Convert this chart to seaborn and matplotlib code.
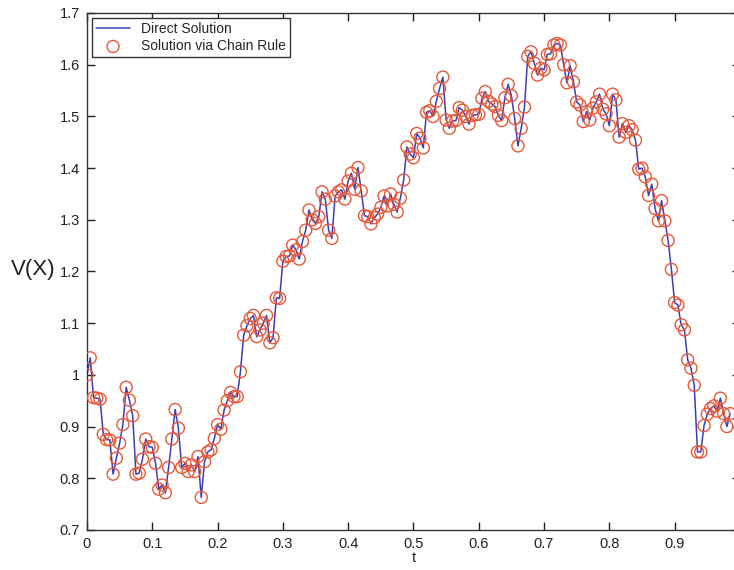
import numpy as np
import pandas as pd
import matplotlib
matplotlib.use("Agg")
import matplotlib.pyplot as plt
import seaborn as sns

# V(X), one value per step of 0.005 in t (right end is cut off)
v_values = [
    1.000, 1.033, 0.956, 0.955, 0.953, 0.885, 0.875, 0.874, 0.808, 0.839,
    0.868, 0.904, 0.976, 0.951, 0.921, 0.808, 0.810, 0.837, 0.876, 0.861,
    0.860, 0.829, 0.779, 0.787, 0.772, 0.821, 0.876, 0.933, 0.897, 0.821,
    0.829, 0.813, 0.826, 0.813, 0.842, 0.763, 0.832, 0.851, 0.855, 0.877,
    0.904, 0.895, 0.932, 0.950, 0.966, 0.958, 0.958, 1.006, 1.077, 1.095,
    1.109, 1.115, 1.074, 1.087, 1.100, 1.115, 1.062, 1.072, 1.149, 1.148,
    1.220, 1.229, 1.230, 1.251, 1.242, 1.224, 1.258, 1.280, 1.319, 1.300,
    1.293, 1.306, 1.354, 1.340, 1.280, 1.264, 1.346, 1.354, 1.358, 1.340,
    1.375, 1.390, 1.359, 1.401, 1.356, 1.308, 1.306, 1.292, 1.304, 1.311,
    1.324, 1.346, 1.327, 1.350, 1.330, 1.315, 1.342, 1.377, 1.441, 1.427,
    1.420, 1.467, 1.458, 1.439, 1.508, 1.511, 1.500, 1.529, 1.554, 1.576,
    1.493, 1.477, 1.491, 1.492, 1.517, 1.512, 1.500, 1.485, 1.502, 1.503,
    1.504, 1.535, 1.548, 1.529, 1.524, 1.519, 1.502, 1.492, 1.536, 1.562,
    1.540, 1.496, 1.443, 1.477, 1.518, 1.616, 1.625, 1.603, 1.580, 1.593,
    1.590, 1.620, 1.621, 1.638, 1.641, 1.638, 1.600, 1.565, 1.598, 1.567,
    1.528, 1.522, 1.490, 1.509, 1.493, 1.516, 1.528, 1.543, 1.514, 1.505,
    1.482, 1.543, 1.532, 1.460, 1.486, 1.469, 1.482, 1.474, 1.454, 1.398,
    1.400, 1.383, 1.347, 1.369, 1.322, 1.298, 1.337, 1.298, 1.260, 1.204,
    1.140, 1.135, 1.097, 1.087, 1.029, 1.013, 0.980, 0.851, 0.851, 0.902,
    0.924, 0.935, 0.940, 0.930, 0.955, 0.925, 0.900, 0.925,
]
dt = 0.005
t_values = [round(i * dt, 3) for i in range(len(v_values))]

# the tick at t=1 sits past the right edge of the picture, so it is left out
x_ticks = [0, 0.1, 0.2, 0.3, 0.4, 0.5, 0.6, 0.7, 0.8, 0.9]
x_tick_labels = ["0", "0.1", "0.2", "0.3", "0.4", "0.5", "0.6", "0.7", "0.8", "0.9"]
y_ticks = [0.7, 0.8, 0.9, 1.0, 1.1, 1.2, 1.3, 1.4, 1.5, 1.6, 1.7]
y_tick_labels = ["0.7", "0.8", "0.9", "1", "1.1", "1.2", "1.3", "1.4", "1.5", "1.6", "1.7"]

df = pd.DataFrame({"t": t_values, "v": v_values})

sns.set_style("ticks")
plt.rcParams["font.family"] = ["Liberation Sans", "DejaVu Sans"]

fig = plt.figure(figsize=(7.34, 5.70), dpi=100)
ax = fig.add_axes([0.1185, 0.0702, 0.8896, 0.9070])

sns.lineplot(data=df, x="t", y="v", color="#3d3db4", linewidth=1.1,
             label="Direct Solution", ax=ax)
sns.scatterplot(data=df, x="t", y="v", marker="o", s=75,
                facecolor="none", edgecolor="#e4593a", linewidth=1.0,
                label="Solution via Chain Rule", ax=ax, zorder=3)

ax.set_xlim(0, 1)
ax.set_ylim(0.7, 1.7)
ax.set_xticks(x_ticks)
ax.set_xticklabels(x_tick_labels)
ax.set_yticks(y_ticks)
ax.set_yticklabels(y_tick_labels)
ax.tick_params(direction="in", length=6, width=1, labelsize=10.5,
               colors="#222222", top=True, right=True, pad=5)

for side in ["left", "right", "top", "bottom"]:
    ax.spines[side].set_visible(True)
    ax.spines[side].set_color("#333333")
    ax.spines[side].set_linewidth(1.0)

ax.set_xlabel("t", fontsize=11, color="#222222", labelpad=0)
ax.set_ylabel("V(X)", fontsize=16, rotation=0, ha="right", va="center",
              color="#222222")
ax.yaxis.set_label_coords(-0.048, 0.503)

leg = ax.legend(loc="upper left", bbox_to_anchor=(0.008, 0.99), fontsize=10,
                frameon=True, fancybox=False, borderpad=0.3, labelspacing=0.2,
                handlelength=2.4, handletextpad=0.8, borderaxespad=0.0)
leg.get_frame().set_edgecolor("#333333")
leg.get_frame().set_linewidth(1.0)
leg.get_frame().set_alpha(1.0)

fig.savefig("out.png", dpi=100)
